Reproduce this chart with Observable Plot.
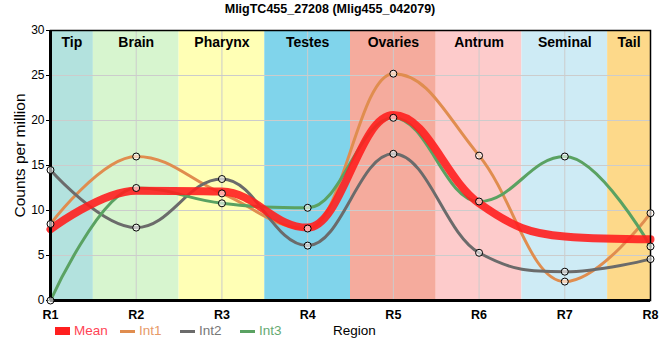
<!DOCTYPE html>
<html>
<head>
<meta charset="utf-8">
<script src="https://cdn.jsdelivr.net/npm/d3@7"></script>
<script src="https://cdn.jsdelivr.net/npm/@observablehq/plot@0.6"></script>
<style>
  body { margin: 0; background: #fff; font-family: "Liberation Sans", Arial, sans-serif; }
  #wrap { position: relative; width: 660px; height: 360px; }
  #title { position: absolute; left: 0; top: 2px; width: 660px; text-align: center; font-weight: bold; font-size: 12.5px; color: #000; }
  #legend { position: absolute; left: 0; top: 322px; width: 660px; height: 20px; font-size: 13.5px; }
  .item { position: absolute; top: 0; line-height: 18px; white-space: nowrap; }
  .sw { display: inline-block; vertical-align: middle; margin-right: 4px; }
  #chart { position: absolute; left: 0; top: 0; }
</style>
</head>
<body>
<div id="wrap">
  <div id="chart"></div>
  <div id="title"></div>
  <div id="legend"></div>
</div>
<script>
const titleText = "MligTC455_27208 (Mlig455_042079)";
const regions = ["R1", "R2", "R3", "R4", "R5", "R6", "R7", "R8"];
const tissues = ["Tip", "Brain", "Pharynx", "Testes", "Ovaries", "Antrum", "Seminal", "Tail"];
const tissueColors = ["#b3e2de", "#d7f5cf", "#ffffb5", "#80d4eb", "#f5ab9d", "#fdcbcb", "#ceebf5", "#fdd98a"];
const meanVals = [7.9, 12.2, 12.1, 8.1, 20.6, 10.8, 7.1, 6.8];
const int1 = [8.5, 16.0, 11.9, 8.0, 25.2, 16.1, 2.1, 9.7];
const int2 = [14.5, 8.1, 13.5, 6.1, 16.3, 5.3, 3.2, 4.6];
const int3 = [0.0, 12.5, 10.8, 10.3, 20.3, 11.0, 16.0, 6.0];
const seriesNames = ["Int1", "Int2", "Int3"];
const seriesColors = ["#e08d4f", "#6b6b6b", "#5aa262"];
const meanColor = "#ff1f1f";
const yTicks = [0, 5, 10, 15, 20, 25, 30];
const yLabel = "Counts per million";
const xLabel = "Region";

// Spline curve with flat extrema (control handles at 0.4 of the interval)
function splineCurve(context) {
  let pts = [];
  return {
    areaStart() {}, areaEnd() {},
    lineStart() { pts = []; },
    point(x, y) { pts.push([+x, +y]); },
    lineEnd() {
      const n = pts.length;
      if (!n) return;
      const s = 1.5, den = s + 1;
      const L = [], R = [];
      for (let i = 0; i < n; i++) {
        const [px, py] = pts[i];
        if (i === 0 || i === n - 1) { L[i] = [px, py]; R[i] = [px, py]; continue; }
        const [lx, ly] = pts[i - 1], [nx, ny] = pts[i + 1];
        let lcx = (s * px + lx) / den, lcy = (s * py + ly) / den;
        let rcx = (s * px + nx) / den, rcy = (s * py + ny) / den;
        if (rcx !== lcx) {
          const corr = ((rcy - lcy) * (rcx - px)) / (rcx - lcx) + py - rcy;
          lcy += corr; rcy += corr;
        }
        if (lcy > ly && lcy > py) { lcy = Math.max(ly, py); rcy = 2 * py - lcy; }
        else if (lcy < ly && lcy < py) { lcy = Math.min(ly, py); rcy = 2 * py - lcy; }
        if (rcy > ny && rcy > py) { rcy = Math.max(ny, py); lcy = 2 * py - rcy; }
        else if (rcy < ny && rcy < py) { rcy = Math.min(ny, py); lcy = 2 * py - rcy; }
        L[i] = [lcx, lcy]; R[i] = [rcx, rcy];
      }
      context.moveTo(pts[0][0], pts[0][1]);
      for (let i = 1; i < n; i++) {
        context.bezierCurveTo(R[i - 1][0], R[i - 1][1], L[i][0], L[i][1], pts[i][0], pts[i][1]);
      }
    }
  };
}

const idx = regions.map((r, i) => i + 1);
const series = [int1, int2, int3];
const longData = [];
series.forEach((vals, s) => vals.forEach((v, i) => longData.push({x: i + 1, y: v, name: seriesNames[s], color: seriesColors[s]})));
const meanData = meanVals.map((v, i) => ({x: i + 1, y: v}));
const bands = tissues.map((t, i) => ({name: t, x1: Math.max(1, i + 0.5), x2: Math.min(regions.length, i + 1.5), color: tissueColors[i]}));

const chart = Plot.plot({
  width: 660,
  height: 360,
  marginLeft: 50,
  marginRight: 10,
  marginTop: 30,
  marginBottom: 60,
  style: {fontFamily: "Liberation Sans, Arial, sans-serif", fontSize: "12px", background: "transparent"},
  x: {domain: [1, regions.length], axis: null},
  y: {domain: [0, 30], ticks: yTicks, tickSize: 4, label: null, tickPadding: 2},
  color: {type: "identity"},
  marks: [
    Plot.rect(bands, {x1: "x1", x2: "x2", y1: 0, y2: 30, fill: "color"}),
    Plot.ruleY(yTicks.slice(1, -1), {stroke: "#cccccc", strokeWidth: 1}),
    Plot.ruleX(idx, {stroke: "#cccccc", strokeWidth: 1}),
    Plot.text(bands, {x: d => (d.x1 + d.x2) / 2, y: 30, dy: 12, text: "name", fontWeight: "bold", fontSize: 14, fill: "#000"}),
    Plot.line(longData, {x: "x", y: "y", z: "name", stroke: "color", strokeWidth: 3, curve: splineCurve}),
    Plot.line(meanData, {x: "x", y: "y", stroke: meanColor, strokeWidth: 8, strokeOpacity: 0.9, curve: splineCurve}),
    Plot.frame({stroke: "#000", strokeWidth: 1.5}),
    Plot.ruleY([0], {stroke: "#000", strokeWidth: 3}),
    Plot.ruleX([1], {stroke: "#000", strokeWidth: 3}),
    Plot.dot(longData, {x: "x", y: "y", r: 3.5, fill: "#fff", fillOpacity: 0.6, stroke: "#000", strokeWidth: 1}),
    Plot.text(regions, {x: (d, i) => i + 1, y: 0, dy: 14, text: d => d, fontWeight: "bold", fontSize: 12.5, fill: "#000"}),
    Plot.text([yLabel], {frameAnchor: "left", textAnchor: "middle", dx: -30, dy: -10, rotate: -90, text: d => d, fontSize: 15.5, fill: "#000"})
  ]
});
document.getElementById("chart").appendChild(chart);
document.getElementById("title").textContent = titleText;

const legend = document.getElementById("legend");
const legendItems = [
  {name: "Mean", color: meanColor, text: "#ff4455", left: 55, h: 8},
  {name: seriesNames[0], color: seriesColors[0], text: "#e79a68", left: 120, h: 3},
  {name: seriesNames[1], color: seriesColors[1], text: "#777777", left: 180, h: 3},
  {name: seriesNames[2], color: seriesColors[2], text: "#66aa72", left: 240, h: 3}
];
legendItems.forEach(it => {
  const d = document.createElement("div");
  d.className = "item";
  d.style.left = it.left + "px";
  d.style.color = it.text;
  const sw = document.createElement("span");
  sw.className = "sw";
  sw.style.width = "15px";
  sw.style.height = it.h + "px";
  sw.style.background = it.color;
  d.appendChild(sw);
  d.appendChild(document.createTextNode(it.name));
  legend.appendChild(d);
});
const rl = document.createElement("div");
rl.className = "item";
rl.style.left = "333px";
rl.style.color = "#000";
rl.textContent = xLabel;
legend.appendChild(rl);
</script>
</body>
</html>
